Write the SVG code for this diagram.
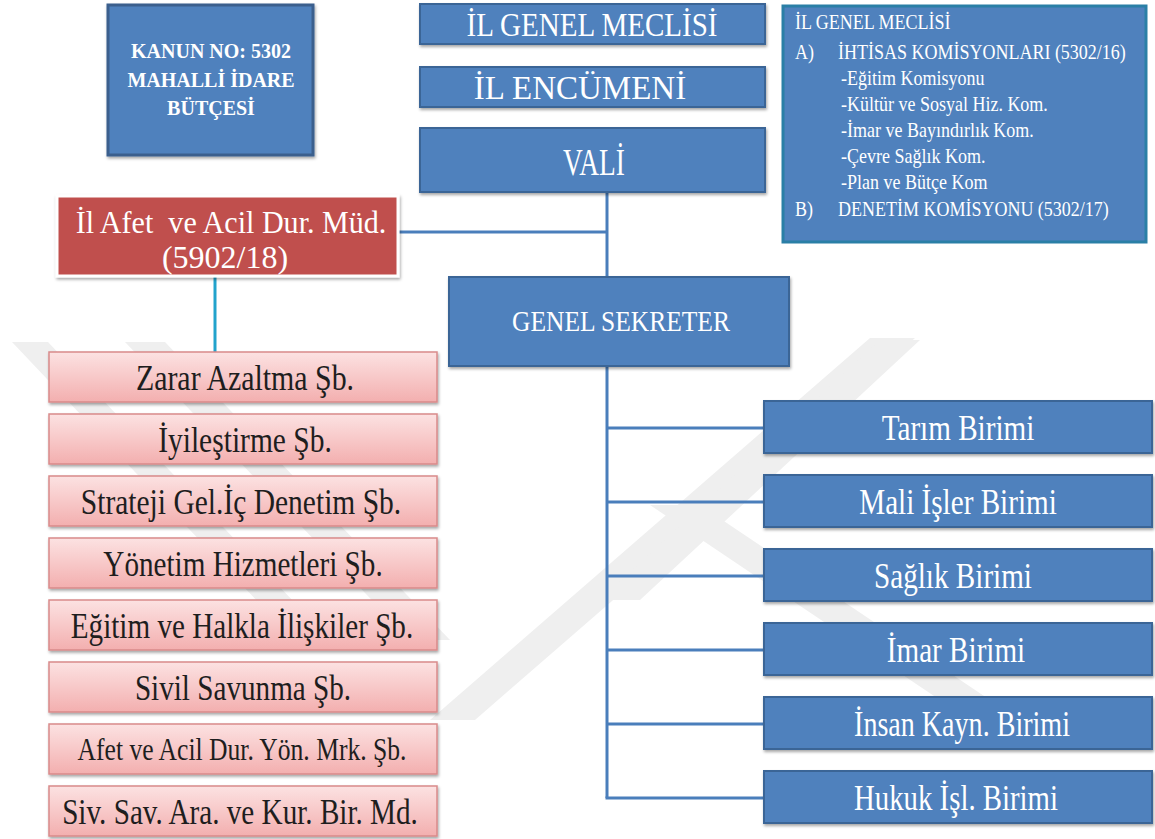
<svg xmlns="http://www.w3.org/2000/svg" width="1155" height="839" viewBox="0 0 1155 839">
<style>
.bg{fill:#ffffff}
.wm{fill:#efefef}
.blue{fill:#4F81BD;stroke:#3A6596;stroke-width:2}
.kanun{fill:#4F81BD;stroke:#3B5F8D;stroke-width:3}
.info{fill:#4F81BD;stroke:#2A7FA6;stroke-width:3}
.red{fill:#C0504D;stroke:#ffffff;stroke-width:3}
.pink{fill:url(#pinkGrad);stroke:#D98A8A;stroke-width:1.5}
.wt{font-family:"Liberation Serif","Times New Roman",serif;fill:#ffffff;text-anchor:middle}
.wl{font-family:"Liberation Serif","Times New Roman",serif;fill:#ffffff;text-anchor:start}
.bt{font-family:"Liberation Serif","Times New Roman",serif;fill:#1e1e1e;text-anchor:middle}
.ln{stroke:#4A7EBB;stroke-width:3;fill:none}
.cy{stroke:#22A3CC;stroke-width:3;fill:none}
</style>
<defs>
<linearGradient id="pinkGrad" x1="0" y1="0" x2="0" y2="1">
<stop offset="0" stop-color="#FCE2E2"/>
<stop offset="1" stop-color="#F3AFAF"/>
</linearGradient>
<filter id="sh" x="-5%" y="-10%" width="110%" height="130%">
<feDropShadow dx="1" dy="2" stdDeviation="1.5" flood-color="#000" flood-opacity="0.35"/>
</filter>
</defs>
<rect class="bg" x="0" y="0" width="1155" height="839"/>
<g id="watermark">
<polygon class="wm" points="12,342 48,342 330,640 294,640"/>
<polygon class="wm" points="125,342 165,342 450,640 410,640"/>
<polygon class="wm" points="430,720 475,720 915,338 870,338"/>
<polygon class="wm" points="600,600 640,600 920,340 880,340"/>
<polygon class="wm" points="650,505 700,505 990,700 940,700"/>
</g>
<g id="connectors">
<line class="ln" x1="607" y1="192" x2="607" y2="277"/>
<line class="ln" x1="398" y1="232" x2="607" y2="232"/>
<line class="cy" x1="215" y1="277" x2="215" y2="352"/>
<line class="ln" x1="607" y1="366" x2="607" y2="798"/>
<line class="ln" x1="607" y1="428" x2="764" y2="428"/>
<line class="ln" x1="607" y1="502" x2="764" y2="502"/>
<line class="ln" x1="607" y1="576" x2="764" y2="576"/>
<line class="ln" x1="607" y1="650" x2="764" y2="650"/>
<line class="ln" x1="607" y1="724" x2="764" y2="724"/>
<line class="ln" x1="605.5" y1="798" x2="764" y2="798"/>
</g>
<g id="kanun">
<rect class="kanun" x="108" y="5" width="205" height="150" filter="url(#sh)"/>
<text class="wt" font-size="20" font-weight="bold" x="211" y="58">KANUN NO: 5302</text>
<text class="wt" font-size="20" font-weight="bold" x="211" y="87">MAHALLİ İDARE</text>
<text class="wt" font-size="20" font-weight="bold" x="211" y="115">BÜTÇESİ</text>
</g>
<g id="il-genel-meclisi">
<rect class="blue" x="420" y="4" width="345" height="40" filter="url(#sh)"/>
<text class="wt" font-size="33" transform="translate(592,36) scale(0.88,1)">İL GENEL MECLİSİ</text>
</g>
<g id="il-encumeni">
<rect class="blue" x="420" y="67" width="345" height="40" filter="url(#sh)"/>
<text class="wt" font-size="33" transform="translate(580,99) scale(1,1)">İL ENCÜMENİ</text>
</g>
<g id="vali">
<rect class="blue" x="420" y="128" width="345" height="64" filter="url(#sh)"/>
<text class="wt" font-size="38" transform="translate(594,175) scale(0.72,1)">VALİ</text>
</g>
<g id="info-box">
<rect class="info" x="783" y="6" width="363" height="236"/>
<text class="wl" font-size="20" transform="translate(795,29) scale(0.9,1)">İL GENEL MECLİSİ</text>
<text class="wl" font-size="20" transform="translate(795,59) scale(0.9,1)">A)</text>
<text class="wl" font-size="20" transform="translate(838,59) scale(0.9,1)">İHTİSAS KOMİSYONLARI (5302/16)</text>
<text class="wl" font-size="20" transform="translate(841,85) scale(0.9,1)">-Eğitim Komisyonu</text>
<text class="wl" font-size="20" transform="translate(841,111) scale(0.9,1)">-Kültür ve Sosyal Hiz. Kom.</text>
<text class="wl" font-size="20" transform="translate(841,137) scale(0.9,1)">-İmar ve Bayındırlık Kom.</text>
<text class="wl" font-size="20" transform="translate(841,163) scale(0.9,1)">-Çevre Sağlık Kom.</text>
<text class="wl" font-size="20" transform="translate(841,189) scale(0.9,1)">-Plan ve Bütçe Kom</text>
<text class="wl" font-size="20" transform="translate(795,216) scale(0.9,1)">B)</text>
<text class="wl" font-size="20" transform="translate(838,216) scale(0.9,1)">DENETİM KOMİSYONU (5302/17)</text>
</g>
<g id="afet-mudurlugu">
<rect class="red" x="57" y="196" width="341" height="80" filter="url(#sh)"/>
<text class="wt" font-size="32" style="white-space:pre" transform="translate(231,233) scale(0.94,1)">İl Afet  ve Acil Dur. Müd.</text>
<text class="wt" font-size="32" transform="translate(225,268) scale(1,1)">(5902/18)</text>
</g>
<g id="genel-sekreter">
<rect class="blue" x="449" y="277" width="340" height="89" filter="url(#sh)"/>
<text class="wt" font-size="30" transform="translate(621,331) scale(0.85,1)">GENEL SEKRETER</text>
</g>
<g id="zarar">
<rect class="pink" x="49" y="352" width="388" height="50" filter="url(#sh)"/>
<text class="bt" font-size="36" transform="translate(245,390) scale(0.83,1)">Zarar Azaltma Şb.</text>
</g>
<g id="iyilestirme">
<rect class="pink" x="49" y="414" width="388" height="50" filter="url(#sh)"/>
<text class="bt" font-size="36" transform="translate(245,452) scale(0.82,1)">İyileştirme Şb.</text>
</g>
<g id="strateji">
<rect class="pink" x="49" y="476" width="388" height="50" filter="url(#sh)"/>
<text class="bt" font-size="36" transform="translate(241,514) scale(0.82,1)">Strateji Gel.İç Denetim Şb.</text>
</g>
<g id="yonetim">
<rect class="pink" x="49" y="538" width="388" height="50" filter="url(#sh)"/>
<text class="bt" font-size="36" transform="translate(243,576) scale(0.81,1)">Yönetim Hizmetleri Şb.</text>
</g>
<g id="egitim">
<rect class="pink" x="49" y="600" width="388" height="50" filter="url(#sh)"/>
<text class="bt" font-size="36" transform="translate(242,638) scale(0.81,1)">Eğitim ve Halkla İlişkiler Şb.</text>
</g>
<g id="sivil-savunma">
<rect class="pink" x="49" y="662" width="388" height="50" filter="url(#sh)"/>
<text class="bt" font-size="36" transform="translate(243,700) scale(0.81,1)">Sivil Savunma Şb.</text>
</g>
<g id="afet-merkez">
<rect class="pink" x="49" y="724" width="388" height="50" filter="url(#sh)"/>
<text class="bt" font-size="32" transform="translate(242,760) scale(0.8,1)">Afet ve Acil Dur. Yön. Mrk. Şb.</text>
</g>
<g id="siv-sav-ara">
<rect class="pink" x="49" y="786" width="388" height="50" filter="url(#sh)"/>
<text class="bt" font-size="36" transform="translate(240,824) scale(0.81,1)">Siv. Sav. Ara. ve Kur. Bir. Md.</text>
</g>
<g id="tarim">
<rect class="blue" x="764" y="401" width="388" height="52" filter="url(#sh)"/>
<text class="wt" font-size="36" transform="translate(958,440) scale(0.81,1)">Tarım Birimi</text>
</g>
<g id="mali-isler">
<rect class="blue" x="764" y="475" width="388" height="52" filter="url(#sh)"/>
<text class="wt" font-size="36" transform="translate(958,514) scale(0.81,1)">Mali İşler Birimi</text>
</g>
<g id="saglik">
<rect class="blue" x="764" y="549" width="388" height="52" filter="url(#sh)"/>
<text class="wt" font-size="36" transform="translate(953,588) scale(0.81,1)">Sağlık Birimi</text>
</g>
<g id="imar">
<rect class="blue" x="764" y="623" width="388" height="52" filter="url(#sh)"/>
<text class="wt" font-size="36" transform="translate(956,662) scale(0.81,1)">İmar Birimi</text>
</g>
<g id="insan-kaynaklari">
<rect class="blue" x="764" y="697" width="388" height="52" filter="url(#sh)"/>
<text class="wt" font-size="36" transform="translate(962,736) scale(0.78,1)">İnsan Kayn. Birimi</text>
</g>
<g id="hukuk">
<rect class="blue" x="764" y="771" width="388" height="52" filter="url(#sh)"/>
<text class="wt" font-size="36" transform="translate(956,810) scale(0.8,1)">Hukuk İşl. Birimi</text>
</g>
</svg>
